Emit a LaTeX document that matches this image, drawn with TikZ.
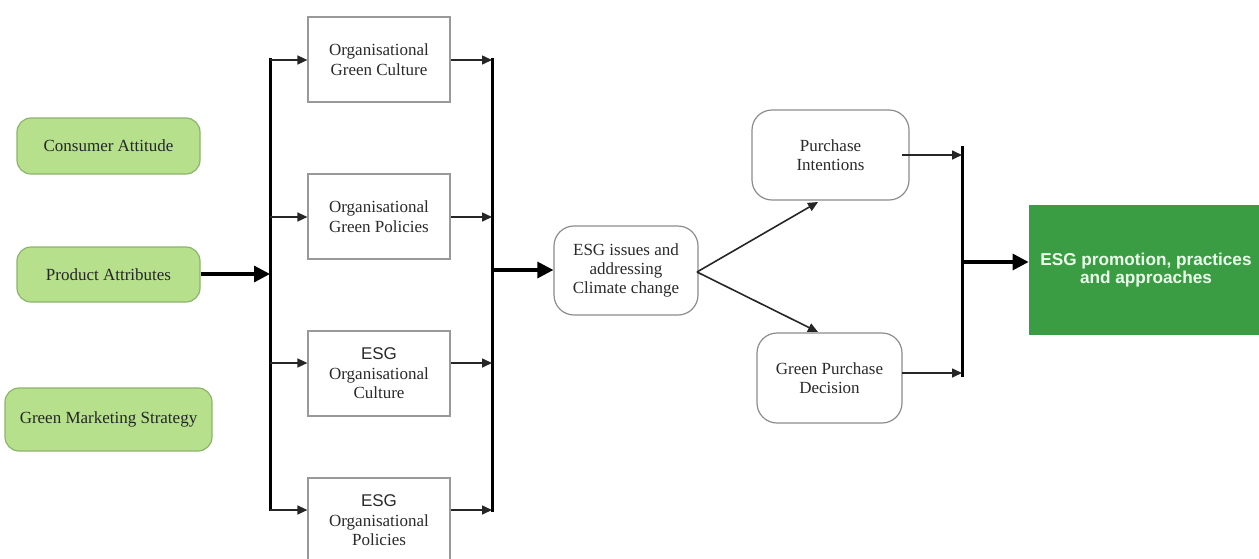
\documentclass[tikz,border=0pt]{standalone}
\usepackage{fontspec}
\setmainfont{Liberation Serif}
\setsansfont{Liberation Sans}
\usetikzlibrary{arrows.meta}
\definecolor{lgreen}{HTML}{B6E08C}
\definecolor{lgborder}{HTML}{8DB46C}
\definecolor{dgreen}{HTML}{3A9C43}
\definecolor{txt}{HTML}{2A2A2A}
\begin{document}
\begin{tikzpicture}[x=0.5pt,y=-0.5pt,
  every node/.style={inner sep=0pt, align=center, text=txt, font=\fontsize{8.5}{9.7}\selectfont},
  gbox/.style={draw=lgborder, line width=0.6pt, fill=lgreen, rounded corners=7pt, text=black!85},
  rbox/.style={draw=black!40, line width=0.6pt, fill=white, minimum width=71pt, minimum height=42.5pt},
  obox/.style={draw=black!45, line width=0.6pt, fill=white, rounded corners=10pt},
  bus/.style={line width=1.5pt, black},
  thin/.style={line width=0.8pt, black!85, -{Triangle[length=5pt,width=4.5pt]}},
  thick/.style={line width=1.6pt, black, -{Triangle[length=8pt,width=8pt]}},
]
\useasboundingbox (0,0) rectangle (1259,558);
\clip (0,0) rectangle (1259,558);
% left boxes
\node[gbox, minimum width=91.5pt, minimum height=28pt] (ca) at (108.5,146) {Consumer Attitude};
\node[gbox, minimum width=91.5pt, minimum height=27.5pt] (pa) at (108.5,274.5) {Product Attributes};
\node[gbox, minimum width=103.5pt, minimum height=31.5pt] (gms) at (108.5,419.5) {Green Marketing Strategy};
% middle boxes
\node[rbox] (ogc) at (379,59.5) {Organisational\\Green Culture};
\node[rbox] (ogp) at (379,216.5) {Organisational\\Green Policies};
\node[rbox] (eoc) at (379,373.5) {{\sffamily ESG}\\Organisational\\Culture};
\node[rbox] (eop) at (379,520.5) {{\sffamily ESG}\\Organisational\\Policies};
% buses
\coordinate (lt) at (270,58);
\coordinate (lb) at (270,511);
\coordinate (rt) at (492,58);
\coordinate (rb) at (492,512);
\draw[bus] (lt) -- (lb);
\draw[bus] (rt) -- (rb);
\coordinate (l1) at (270,60);
\coordinate (l2) at (270,217);
\coordinate (l3) at (270,363);
\coordinate (l4) at (270,510);
\coordinate (r1) at (492,60);
\coordinate (r2) at (492,217);
\coordinate (r3) at (492,363);
\coordinate (r4) at (492,510);
\draw[thin] (l1) -- (l1 -| ogc.west);
\draw[thin] (l2) -- (l2 -| ogp.west);
\draw[thin] (l3) -- (l3 -| eoc.west);
\draw[thin] (l4) -- (l4 -| eop.west);
\draw[thin] (r1 -| ogc.east) -- (r1);
\draw[thin] (r2 -| ogp.east) -- (r2);
\draw[thin] (r3 -| eoc.east) -- (r3);
\draw[thin] (r4 -| eop.east) -- (r4);
\coordinate (lin) at (270,274);
\draw[thick] (pa.east |- lin) -- (lin);
% ESG issues
\node[obox, minimum width=72pt, minimum height=44.5pt] (esg) at (626,270.5) {ESG issues and\\addressing\\Climate change};
\coordinate (rout) at (492,270);
\draw[thick] (rout) -- (rout -| esg.west);
\node[obox, minimum width=78.5pt, minimum height=45pt] (pi) at (830.5,155) {Purchase\\Intentions};
\node[obox, minimum width=72.5pt, minimum height=45pt] (gpd) at (829.5,378) {Green Purchase\\Decision};
\coordinate (fork) at (697,272);
\draw[thin] (fork) -- (818,202);
\draw[thin] (fork) -- (818,332);
% right bus
\coordinate (bt) at (962,146);
\coordinate (bb) at (962,377);
\draw[bus] (bt) -- (bb);
\coordinate (b1) at (962,155);
\coordinate (b2) at (962,373);
\draw[thin] (902,155) -- (b1);
\draw[thin] (902,373) -- (b2);
\node[fill=dgreen, minimum width=117pt, minimum height=65pt, text=white!92!green, font=\sffamily\bfseries\fontsize{8.6}{8.8}\selectfont] (out) at (1146,270) {ESG promotion, practices\\and approaches};
\coordinate (bo) at (962,262);
\draw[thick] (bo) -- (bo -| out.west);
\end{tikzpicture}
\end{document}
